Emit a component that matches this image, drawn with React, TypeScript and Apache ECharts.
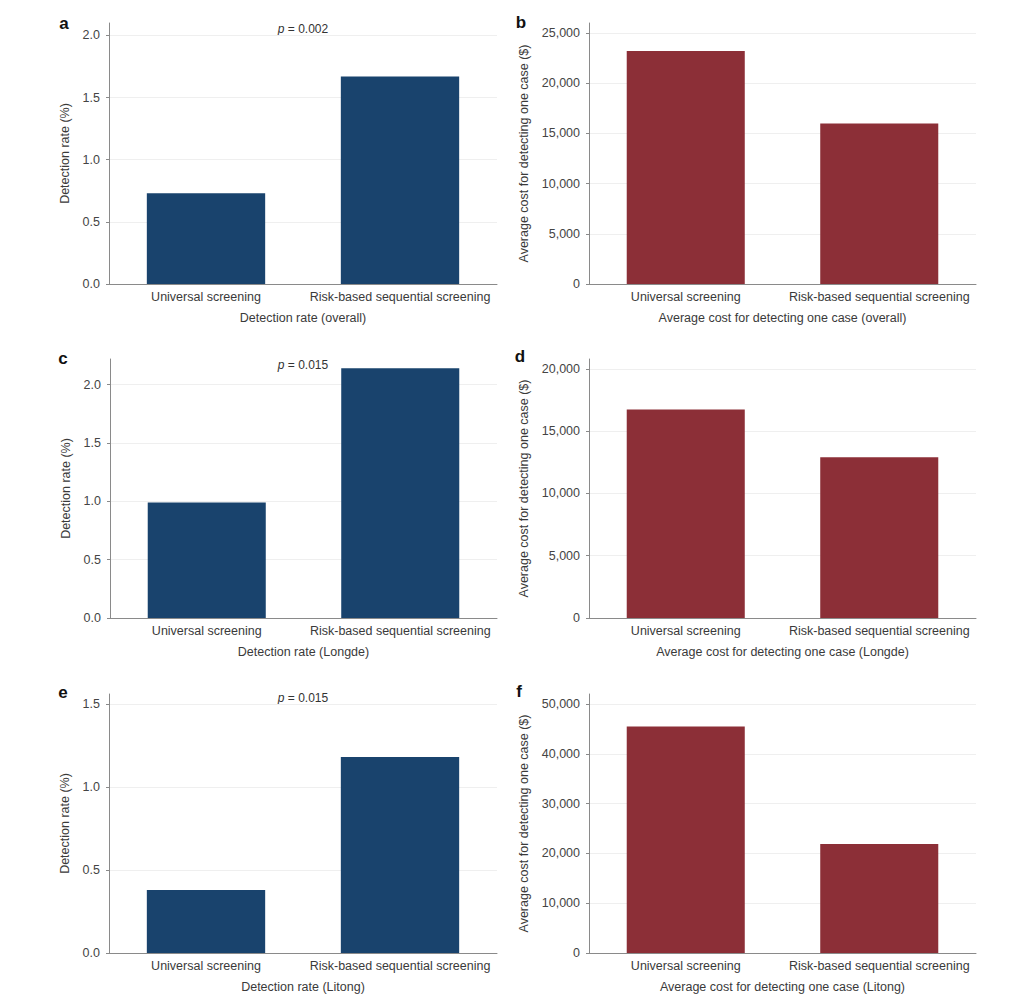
import React, { useEffect, useRef } from "react";
import * as echarts from "echarts";

const categories = ["Universal screening", "Risk-based sequential screening"];

const rateOverall = [0.73, 1.67];
const costOverall = [23200, 16000];
const rateLongde = [0.99, 2.14];
const costLongde = [16750, 12900];
const rateLitong = [0.38, 1.18];
const costLitong = [45500, 21900];

const ticksA = [0, 0.5, 1.0, 1.5, 2.0];
const ticksB = [0, 5000, 10000, 15000, 20000, 25000];
const ticksC = [0, 0.5, 1.0, 1.5, 2.0];
const ticksD = [0, 5000, 10000, 15000, 20000];
const ticksE = [0, 0.5, 1.0, 1.5];
const ticksF = [0, 10000, 20000, 30000, 40000, 50000];

const axisMax = [2.1, 26000, 2.22, 20800, 1.56, 52000];

const panelLetters = ["a", "b", "c", "d", "e", "f"];
const pValues = ["p = 0.002", "p = 0.015", "p = 0.015"];

const xNames = [
  "Detection rate (overall)",
  "Average cost for detecting one case (overall)",
  "Detection rate (Longde)",
  "Average cost for detecting one case (Longde)",
  "Detection rate (Litong)",
  "Average cost for detecting one case (Litong)",
];
const yNames = [
  "Detection rate (%)",
  "Average cost for detecting one case ($)",
];

const BLUE = "#19436d";
const RED = "#8c2f37";
const FONT = "Liberation Sans, Arial, sans-serif";
const FS = 12.5;

export default function App() {
  const ref = useRef<HTMLDivElement>(null);
  useEffect(() => {
    if (!ref.current) return;
    const chart = echarts.init(ref.current, null, { renderer: "svg" });

    const gridBoxes = [
      { left: 109, top: 23, width: 388, height: 261 },
      { left: 589, top: 23, width: 387, height: 261 },
      { left: 110, top: 359, width: 387, height: 259 },
      { left: 589, top: 359, width: 387, height: 259 },
      { left: 109, top: 694, width: 388, height: 259 },
      { left: 589, top: 694, width: 387, height: 259 },
    ];
    const seriesData = [rateOverall, costOverall, rateLongde, costLongde, rateLitong, costLitong];
    const ticks = [ticksA, ticksB, ticksC, ticksD, ticksE, ticksF];

    const grid = gridBoxes.map((g) => ({ ...g, containLabel: false }));
    const xAxis = gridBoxes.map((_, i) => ({
      type: "category",
      gridIndex: i,
      data: categories,
      axisLine: { lineStyle: { color: "#8a8a8a", width: 1 } },
      axisTick: { show: false },
      axisLabel: { color: "#3a3a3a", fontSize: FS, fontFamily: FONT, margin: 6, interval: 0 },
      name: xNames[i],
      nameLocation: "middle",
      nameGap: 27,
      nameTextStyle: { color: "#3a3a3a", fontSize: FS, fontFamily: FONT },
    }));
    const yAxis = gridBoxes.map((_, i) => {
      const isCost = i % 2 === 1;
      return {
        type: "value",
        gridIndex: i,
        min: 0,
        max: axisMax[i],
        axisLine: { show: true, lineStyle: { color: "#8a8a8a", width: 1 } },
        axisTick: { show: true, length: 3, lineStyle: { color: "#8a8a8a" }, customValues: ticks[i] },
        axisLabel: {
          color: "#444",
          fontSize: FS,
          fontFamily: FONT,
          margin: 9,
          customValues: ticks[i],
          formatter: (v: number) =>
            isCost ? v.toLocaleString("en-US") : v.toFixed(1),
        },
        splitLine: { show: true, lineStyle: { color: "#efefef", width: 1 } },
        name: yNames[i % 2],
        nameLocation: "middle",
        nameGap: isCost ? 59 : 38,
        nameTextStyle: { color: "#3a3a3a", fontSize: FS, fontFamily: FONT },
      };
    });
    const series = seriesData.map((d, i) => ({
      type: "bar",
      xAxisIndex: i,
      yAxisIndex: i,
      data: d,
      barWidth: "61%",
      itemStyle: { color: i % 2 === 0 ? BLUE : RED },
    }));

    const letterPos = [
      [64, 23],
      [521, 22],
      [63, 358],
      [520, 356],
      [63, 692],
      [519, 691],
    ];
    const pPos = [
      [303, 29],
      [303, 365],
      [303, 698],
    ];
    const graphic: any[] = [];
    panelLetters.forEach((l, i) => {
      graphic.push({
        type: "text",
        x: letterPos[i][0],
        y: letterPos[i][1],
        style: {
          text: l,
          fill: "#111",
          font: `bold 17px ${FONT}`,
          textAlign: "center",
          textVerticalAlign: "middle",
        },
      });
    });
    pValues.forEach((p, i) => {
      graphic.push({
        type: "text",
        x: pPos[i][0],
        y: pPos[i][1],
        style: {
          text: "{i|p} {n|" + p.slice(2) + "}",
          rich: {
            i: { fontStyle: "italic", fontSize: 12, fontFamily: FONT, fill: "#333" },
            n: { fontSize: 12, fontFamily: FONT, fill: "#333" },
          },
          textAlign: "center",
          textVerticalAlign: "middle",
        },
      });
    });

    chart.setOption({
      animation: false,
      backgroundColor: "#ffffff",
      grid,
      xAxis,
      yAxis,
      series,
      graphic,
    });
    return () => chart.dispose();
  }, []);

  return (
    <div
      ref={ref}
      style={{ position: "absolute", left: 0, top: 0, width: 1030, height: 1002 }}
    />
  );
}
